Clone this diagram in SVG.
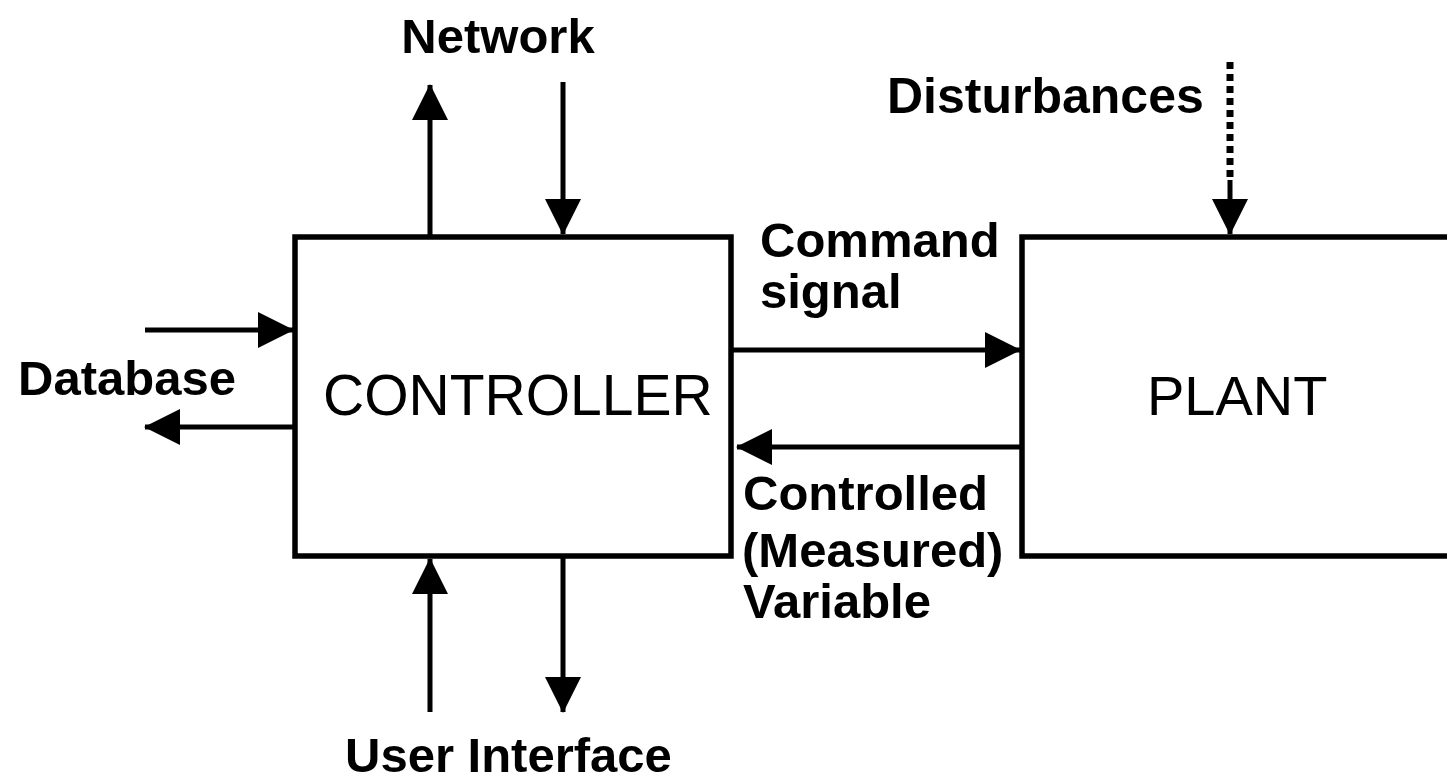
<svg xmlns="http://www.w3.org/2000/svg" width="1447" height="782" viewBox="0 0 1447 782">
<style>
.box{fill:#fff;stroke:#000;stroke-width:5.5}
.ln{stroke:#000;stroke-width:5;fill:none}
.dot{stroke:#000;stroke-width:7;fill:none;stroke-dasharray:7 5}
.lbl{font-family:"Liberation Sans",Arial,sans-serif;font-weight:bold;font-size:49px;fill:#000}
.big{font-family:"Liberation Sans",Arial,sans-serif;font-size:57px;fill:#000}
</style>
<defs>
<marker id="ah" markerUnits="userSpaceOnUse" markerWidth="36" markerHeight="36" refX="35" refY="18" orient="auto" viewBox="0 0 36 36">
<path d="M0,0 L36,18 L0,36 Z" fill="#000"/>
</marker>
</defs>
<rect width="1447" height="782" fill="#fff"/>
<g id="controller">
<rect class="box" x="295" y="237" width="436" height="319"/>
<text class="big" x="323" y="415">CONTROLLER</text>
</g>
<g id="plant">
<rect class="box" x="1022" y="237" width="440" height="319"/>
<text class="big" x="1147" y="415" style="font-size:56px">PLANT</text>
</g>
<g id="labels">
<text class="lbl" x="498" y="53" text-anchor="middle">Network</text>
<text class="lbl" x="887" y="113" style="font-size:50px">Disturbances</text>
<text class="lbl" x="18" y="395">Database</text>
<text class="lbl" x="760" y="257">Command</text>
<text class="lbl" x="760" y="308">signal</text>
<text class="lbl" x="743" y="510">Controlled</text>
<text class="lbl" x="742" y="567">(Measured)</text>
<text class="lbl" x="743" y="618">Variable</text>
<text class="lbl" x="345" y="772">User Interface</text>
</g>
<g id="connectors">
<line class="ln" x1="430" y1="237" x2="430" y2="85" marker-end="url(#ah)"/>
<line class="ln" x1="563" y1="82" x2="563" y2="234" marker-end="url(#ah)"/>
<line class="dot" x1="1230" y1="62" x2="1230" y2="182"/>
<line class="ln" x1="1230" y1="180" x2="1230" y2="234" marker-end="url(#ah)"/>
<line class="ln" x1="145" y1="330" x2="293" y2="330" marker-end="url(#ah)"/>
<line class="ln" x1="295" y1="427" x2="145" y2="427" marker-end="url(#ah)"/>
<line class="ln" x1="731" y1="350" x2="1020" y2="350" marker-end="url(#ah)"/>
<line class="ln" x1="1022" y1="447" x2="737" y2="447" marker-end="url(#ah)"/>
<line class="ln" x1="430" y1="712" x2="430" y2="559" marker-end="url(#ah)"/>
<line class="ln" x1="563" y1="556" x2="563" y2="712" marker-end="url(#ah)"/>
</g>
</svg>
